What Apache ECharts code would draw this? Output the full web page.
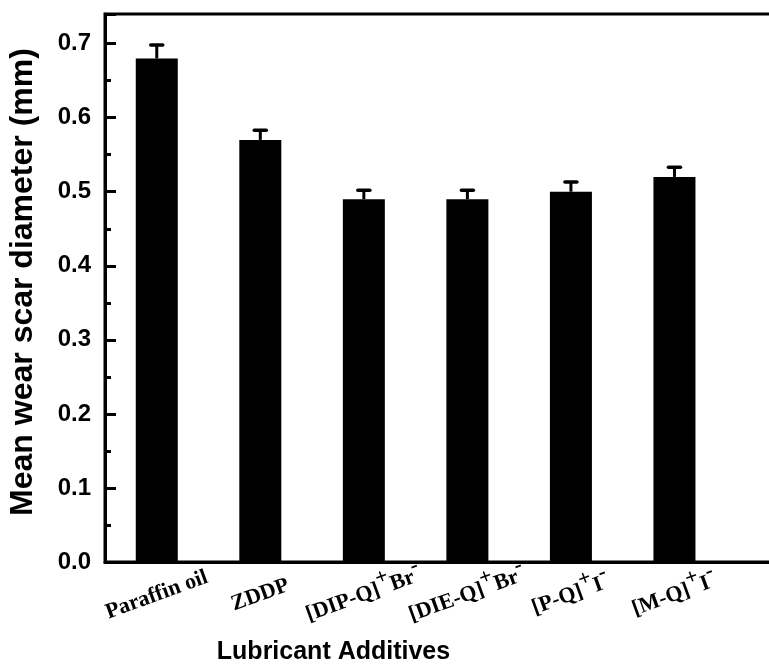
<!DOCTYPE html>
<html>
<head>
<meta charset="utf-8">
<script src="https://cdn.jsdelivr.net/npm/echarts@6/dist/echarts.min.js"></script>
<style>
  html, body { margin: 0; padding: 0; background: #fff; }
  #chart { width: 769px; height: 664px; }
</style>
</head>
<body>
<div id="chart"></div>
<script>
// Lubricant additives (rich-text labels carry the ionic charges)
const categories = [
  'Paraffin oil',
  'ZDDP',
  '[DIP-Q]{sup|+}Br{sup|-}',
  '[DIE-Q]{sup|+}Br{sup|-}',
  '[P-Q]{sup|+}I{sup|-}',
  '[M-Q]{sup|+}I{sup|-}'
];
// Mean wear scar diameter (mm) and its standard deviation
const wearScar = [0.68, 0.57, 0.49, 0.49, 0.50, 0.52];
const wearError = [0.018, 0.013, 0.012, 0.012, 0.013, 0.013];
// Y tick labels
const yTicks = [0.0, 0.1, 0.2, 0.3, 0.4, 0.5, 0.6, 0.7];

const positions = categories.map((c, i) => i + 1);
const barData = positions.map((x, i) => [x, wearScar[i]]);
const errData = positions.map((x, i) => [x, wearScar[i], wearError[i]]);

const sansBold = { fontFamily: 'Liberation Sans, Arial, sans-serif', fontWeight: 'bold', color: '#000' };
const serif = 'Liberation Serif, Times New Roman, serif';

const chart = echarts.init(document.getElementById('chart'), null, { renderer: 'canvas' });

chart.setOption({
  animation: false,
  backgroundColor: '#fff',
  grid: {
    // the frame runs past the right edge of the canvas
    left: 105, width: 673, top: 14, bottom: 102,
    outerBoundsMode: 'none',
    containLabel: false,
    show: true, borderColor: '#000', borderWidth: 3, backgroundColor: 'transparent'
  },
  xAxis: {
    type: 'value',
    min: 0.5,
    max: 7,
    name: 'Lubricant Additives',
    nameLocation: 'middle',
    nameGap: 78,
    nameTextStyle: Object.assign({ fontSize: 25, padding: [0, 216, 0, 0] }, sansBold),
    axisLine: { show: true, lineStyle: { color: '#000', width: 3 } },
    axisTick: { show: false },
    splitLine: { show: false },
    axisLabel: {
      customValues: positions,
      rotate: 20,
      align: 'center',
      verticalAlign: 'middle',
      margin: 33,
      formatter: v => categories[Math.round(v) - 1] || '',
      fontFamily: serif,
      fontWeight: 'bold',
      fontSize: 22,
      color: '#000',
      rich: {
        sup: {
          fontFamily: serif,
          fontWeight: 'bold',
          fontSize: 22,
          color: '#000',
          padding: [0, 0, 20, 0]
        }
      }
    }
  },
  yAxis: [
    {
      type: 'value',
      min: 0,
      max: 0.74,
      interval: 0.1,
      name: 'Mean wear scar diameter (mm)',
      nameLocation: 'middle',
      nameGap: 66,
      nameTextStyle: Object.assign({ fontSize: 32, padding: [0, 0, 0, 12] }, sansBold),
      axisLine: { show: true, lineStyle: { color: '#000', width: 3 } },
      axisTick: { show: true, inside: true, length: 11, lineStyle: { color: '#000', width: 3 } },
      splitLine: { show: false },
      axisLabel: Object.assign({
        fontSize: 24,
        margin: 14,
        customValues: yTicks,
        formatter: v => v.toFixed(1)
      }, sansBold)
    },
    {
      // minor ticks every 0.05
      type: 'value',
      min: 0,
      max: 0.74,
      interval: 0.05,
      position: 'left',
      axisLine: { show: false },
      axisTick: { show: true, inside: true, length: 6, lineStyle: { color: '#000', width: 3 } },
      axisLabel: { show: false },
      splitLine: { show: false }
    }
  ],
  series: [
    {
      type: 'bar',
      data: barData,
      barWidth: 42,
      itemStyle: { color: '#000' },
      z: 2
    },
    {
      type: 'custom',
      data: errData,
      z: 3,
      renderItem: function (params, api) {
        const x = api.value(0);
        const y = api.value(1);
        const e = api.value(2);
        const base = api.coord([x, y]);
        const top = api.coord([x, y + e]);
        return {
          type: 'group',
          children: [
            {
              type: 'line',
              shape: { x1: base[0], y1: base[1], x2: top[0], y2: top[1] },
              style: { stroke: '#000', lineWidth: 3 }
            },
            {
              type: 'line',
              shape: { x1: top[0] - 6, y1: top[1], x2: top[0] + 6, y2: top[1] },
              style: { stroke: '#000', lineWidth: 3.5, lineCap: 'round' }
            }
          ]
        };
      }
    }
  ]
});
</script>
</body>
</html>
